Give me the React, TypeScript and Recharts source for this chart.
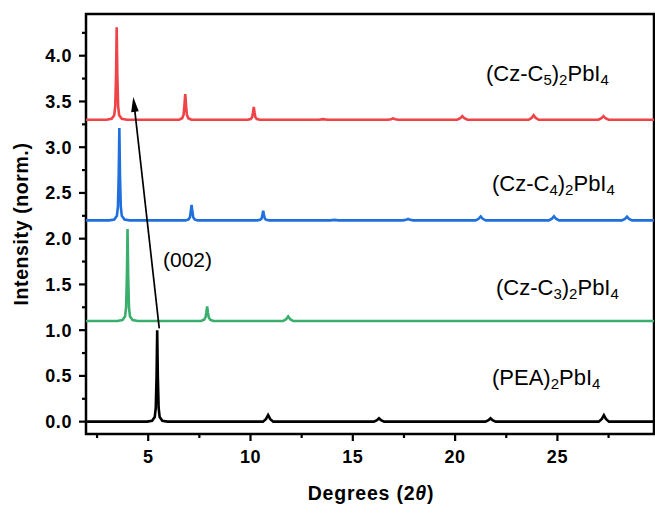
import { LineChart, Line, XAxis, YAxis, ReferenceArea, ReferenceLine } from 'recharts';

// XRD patterns, each offset by +1.1 on the intensity axis
const pea: [number, number][] = [
    [1.96, 0], [4.94, 0], [5.19, 0.01], [5.32, 0.05], [5.37, 0.15], [5.41, 0.5], [5.44, 1.0], [5.47, 0.5], [5.51, 0.15], [5.56, 0.05], [5.69, 0.01], [5.94, 0],
    [10.61, 0], [10.76, 0.03], [10.86, 0.073], [10.96, 0.03], [11.11, 0],
    [16.03, 0], [16.18, 0.015], [16.28, 0.037], [16.38, 0.015], [16.53, 0],
    [21.48, 0], [21.63, 0.015], [21.73, 0.037], [21.83, 0.015], [21.98, 0],
    [27.02, 0], [27.17, 0.03], [27.27, 0.07], [27.37, 0.03], [27.52, 0],
    [29.72, 0],
];

const czC3: [number, number][] = [
    [1.96, 1.1], [3.49, 1.1], [3.74, 1.11], [3.87, 1.15], [3.92, 1.25], [3.96, 1.6], [3.99, 2.105], [4.02, 1.6], [4.06, 1.25], [4.11, 1.15], [4.24, 1.11], [4.49, 1.1],
    [7.58, 1.1], [7.73, 1.115], [7.8, 1.14], [7.84, 1.19], [7.88, 1.26], [7.92, 1.19], [7.96, 1.14], [8.03, 1.115], [8.18, 1.1],
    [11.59, 1.1], [11.74, 1.12], [11.84, 1.15], [11.94, 1.12], [12.09, 1.1],
    [29.72, 1.1],
];

const czC4: [number, number][] = [
    [1.96, 2.2], [3.09, 2.2], [3.34, 2.21], [3.47, 2.25], [3.52, 2.35], [3.56, 2.7], [3.59, 3.21], [3.62, 2.7], [3.66, 2.35], [3.71, 2.25], [3.84, 2.21], [4.09, 2.2],
    [6.82, 2.2], [6.97, 2.21], [7.04, 2.234], [7.08, 2.294], [7.12, 2.37], [7.16, 2.294], [7.2, 2.234], [7.27, 2.21], [7.42, 2.2],
    [10.32, 2.2], [10.47, 2.206], [10.54, 2.221], [10.58, 2.258], [10.62, 2.305], [10.66, 2.258], [10.7, 2.221], [10.77, 2.206], [10.92, 2.2],
    [13.9, 2.2], [14.1, 2.205], [14.3, 2.2],
    [17.45, 2.2], [17.6, 2.206], [17.7, 2.215], [17.8, 2.206], [17.95, 2.2],
    [21.0, 2.2], [21.15, 2.217], [21.25, 2.243], [21.35, 2.217], [21.5, 2.2],
    [24.58, 2.2], [24.73, 2.218], [24.83, 2.245], [24.93, 2.218], [25.08, 2.2],
    [28.15, 2.2], [28.3, 2.216], [28.4, 2.24], [28.5, 2.216], [28.65, 2.2],
    [29.72, 2.2],
];

const czC5: [number, number][] = [
    [1.96, 3.3], [2.96, 3.3], [3.21, 3.31], [3.34, 3.35], [3.39, 3.45], [3.43, 3.8], [3.46, 4.31], [3.49, 3.8], [3.53, 3.45], [3.58, 3.35], [3.71, 3.31], [3.96, 3.3],
    [6.51, 3.3], [6.66, 3.317], [6.73, 3.356], [6.77, 3.454], [6.81, 3.58], [6.85, 3.454], [6.89, 3.356], [6.96, 3.317], [7.11, 3.3],
    [9.86, 3.3], [10.01, 3.308], [10.08, 3.328], [10.12, 3.377], [10.16, 3.44], [10.2, 3.377], [10.24, 3.328], [10.31, 3.308], [10.46, 3.3],
    [13.35, 3.3], [13.55, 3.307], [13.75, 3.3],
    [16.72, 3.3], [16.87, 3.306], [16.97, 3.315], [17.07, 3.306], [17.22, 3.3],
    [20.1, 3.3], [20.25, 3.316], [20.35, 3.34], [20.45, 3.316], [20.6, 3.3],
    [23.59, 3.3], [23.74, 3.32], [23.84, 3.35], [23.94, 3.32], [24.09, 3.3],
    [27.0, 3.3], [27.15, 3.316], [27.25, 3.34], [27.35, 3.316], [27.5, 3.3],
    [29.72, 3.3],
];

const xDomain: [number, number] = [1.96, 29.72];
const yDomain: [number, number] = [-0.135, 4.456];
const xTicks = [2.5, 5, 7.5, 10, 12.5, 15, 17.5, 20, 22.5, 25, 27.5];
const xMajor = [5, 10, 15, 20, 25];
const yTicks = [0, 0.25, 0.5, 0.75, 1, 1.25, 1.5, 1.75, 2, 2.25, 2.5, 2.75, 3, 3.25, 3.5, 3.75, 4, 4.25];
const yMajor = [0, 0.5, 1, 1.5, 2, 2.5, 3, 3.5, 4];

// (002) shift arrow, from PEA peak up towards the Cz-C5 peak
const arrowPath = [{ x: 5.54, y: 1.02 }, { x: 4.27, y: 3.55 }];

const FONT = 'Liberation Sans, Arial, sans-serif';

const toRows = (pts: [number, number][]) => pts.map(([x, y]) => ({ x, y }));

const isMajor = (list: number[], v: number) => list.some(m => Math.abs(m - v) < 1e-6);

function XTick({ x, y, payload }: any) {
    const major = isMajor(xMajor, payload.value);
    return (
        <g>
            <line x1={x} y1={y} x2={x} y2={y + (major ? 7 : 4)} stroke="#000" strokeWidth={2.2} />
            {major && (
                <text x={x} y={y + 29} textAnchor="middle" fontFamily={FONT} fontWeight="bold" fontSize={18} letterSpacing={0.6} fill="#000">
                    {payload.value}
                </text>
            )}
        </g>
    );
}

function YTick({ x, y, payload }: any) {
    const major = isMajor(yMajor, payload.value);
    return (
        <g>
            <line x1={x - (major ? 7 : 4)} y1={y} x2={x} y2={y} stroke="#000" strokeWidth={2.2} />
            {major && (
                <text x={x - 14} y={y + 6.5} textAnchor="end" fontFamily={FONT} fontWeight="bold" fontSize={18} letterSpacing={0.6} fill="#000">
                    {payload.value.toFixed(1)}
                </text>
            )}
        </g>
    );
}

function Arrow({ x1, y1, x2, y2 }: any) {
    const dx = x2 - x1;
    const dy = y2 - y1;
    const len = Math.sqrt(dx * dx + dy * dy);
    const ux = dx / len;
    const uy = dy / len;
    const head = 15;
    const half = 3.8;
    const bx = x2 - ux * head;
    const by = y2 - uy * head;
    return (
        <g>
            <line x1={x1} y1={y1} x2={bx + ux * 2} y2={by + uy * 2} stroke="#000" strokeWidth={1.7} />
            <polygon
                points={`${x2},${y2} ${bx - uy * half},${by + ux * half} ${bx + uy * half},${by - ux * half}`}
                fill="#000"
            />
        </g>
    );
}

function Formula({ x, y, name, n }: { x: number; y: number; name: string; n?: string }) {
    return (
        <text x={x} y={y} fontFamily={FONT} fontSize={22} fill="#000">
            {name}
            {n && <tspan fontSize={15} dy={4}>{n}</tspan>}
            <tspan dy={n ? -4 : 0}>)</tspan>
            <tspan fontSize={15} dy={4}>2</tspan>
            <tspan dy={-4}>PbI</tspan>
            <tspan fontSize={15} dy={4}>4</tspan>
        </text>
    );
}

export default function App() {
    return (
        <div style={{ position: 'absolute', left: 0, top: 0, width: 655, height: 506, background: '#fff' }}>
            <LineChart width={655} height={506} margin={{ top: 14, right: 1, bottom: 0, left: 0 }}>
                <XAxis
                    type="number"
                    dataKey="x"
                    domain={xDomain}
                    ticks={xTicks}
                    interval={0}
                    allowDataOverflow
                    height={72}
                    axisLine={false}
                    tickLine={false}
                    tickSize={0}
                    tickMargin={0}
                    tick={<XTick />}
                />
                <YAxis
                    type="number"
                    domain={yDomain}
                    ticks={yTicks}
                    interval={0}
                    allowDataOverflow
                    width={86}
                    axisLine={false}
                    tickLine={false}
                    tickSize={0}
                    tickMargin={0}
                    tick={<YTick />}
                />
                <Line data={toRows(pea)} dataKey="y" type="linear" stroke="#000000" strokeWidth={2.6} dot={false} isAnimationActive={false} />
                <Line data={toRows(czC3)} dataKey="y" type="linear" stroke="#3aae6c" strokeWidth={2.6} dot={false} isAnimationActive={false} />
                <Line data={toRows(czC4)} dataKey="y" type="linear" stroke="#1f6fdc" strokeWidth={2.6} dot={false} isAnimationActive={false} />
                <Line data={toRows(czC5)} dataKey="y" type="linear" stroke="#ef4348" strokeWidth={2.6} dot={false} isAnimationActive={false} />
                <ReferenceLine segment={arrowPath} ifOverflow="visible" shape={<Arrow />} />
                <ReferenceArea
                    x1={xDomain[0]}
                    x2={xDomain[1]}
                    y1={yDomain[0]}
                    y2={yDomain[1]}
                    fill="none"
                    fillOpacity={0}
                    stroke="#000"
                    strokeWidth={2.5}
                    ifOverflow="visible"
                />
                <Formula x={486} y={81} name="(Cz-C" n="5" />
                <Formula x={492} y={191} name="(Cz-C" n="4" />
                <Formula x={496} y={295} name="(Cz-C" n="3" />
                <Formula x={492} y={385} name="(PEA" />
                <text x={163} y={267} fontFamily={FONT} fontSize={21} fill="#000">(002)</text>
                <text x={371} y={500} textAnchor="middle" fontFamily={FONT} fontWeight="bold" fontSize={19.5} letterSpacing={0.8} fill="#000">
                    Degrees (2<tspan fontStyle="italic">θ</tspan>)
                </text>
                <text
                    x={28}
                    y={224}
                    transform="rotate(-90 28 224)"
                    textAnchor="middle"
                    fontFamily={FONT}
                    fontWeight="bold"
                    fontSize={19.5}
                    letterSpacing={0.6}
                    fill="#000"
                >
                    Intensity (norm.)
                </text>
            </LineChart>
        </div>
    );
}
